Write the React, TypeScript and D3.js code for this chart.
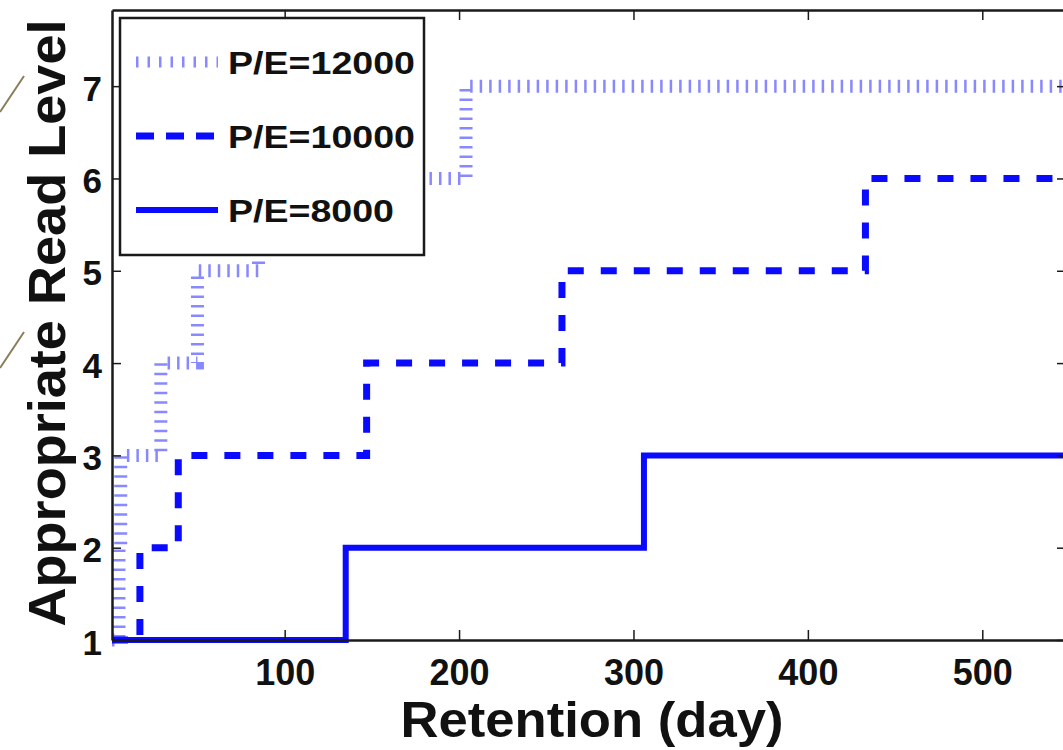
import React, { useRef, useEffect } from 'react';
import * as d3 from 'd3';

// appropriate read level vs retention days
const levelTicks = [1, 2, 3, 4, 5, 6, 7];
const retentionTicks = [100, 200, 300, 400, 500];

const pe12000Days = [1, 5, 6, 29, 50, 85, 204, 548];
const pe12000Levels = [1, 2, 3, 4, 5, 6, 7, 7];
const pe10000Days = [1, 17, 39, 147, 259, 433, 548];
const pe10000Levels = [1, 2, 3, 4, 5, 6, 6];
const pe8000Days = [1, 135, 306, 548];
const pe8000Levels = [1, 2, 3, 3];

const seriesNames = ['P/E=12000', 'P/E=10000', 'P/E=8000'];

const FONT = "'Liberation Sans', Arial, Helvetica, sans-serif";

const App = () => {
  const svgRef = useRef<SVGSVGElement>(null);

  useEffect(() => {
    const svg = d3.select(svgRef.current);
    svg.selectAll('*').remove();

    const x = d3.scaleLinear().domain([1, 548]).range([112, 1066]);
    const y = d3.scaleLinear().domain([1, 7.825]).range([640, 10]);

    svg.append('rect').attr('width', 1063).attr('height', 750).attr('fill', '#ffffff');

    // stray decorative strokes at the left edge
    [[112, 76], [368, 332]].forEach(([y1, y2]) => {
      svg.append('line')
        .attr('x1', 0).attr('y1', y1).attr('x2', 24).attr('y2', y2)
        .attr('stroke', '#8b7d5a').attr('stroke-width', 2);
    });

    const plot = svg.append('g');

    const series = [
      { days: pe12000Days, levels: pe12000Levels, width: 13, dash: '2.5 7', color: '#4a4aff', opacity: 0.65 },
      { days: pe10000Days, levels: pe10000Levels, width: 7, dash: '16 17', color: '#0a0aff', opacity: 1 },
      { days: pe8000Days, levels: pe8000Levels, width: 6, dash: null, color: '#0a0aff', opacity: 1 },
    ];

    const line = d3.line<[number, number]>()
      .x((d) => x(d[0]))
      .y((d) => y(d[1]))
      .curve(d3.curveStepAfter);

    series.forEach((s) => {
      const pts = s.days.map((d, i) => [d, s.levels[i]] as [number, number]);
      plot.append('path')
        .attr('d', line(pts))
        .attr('fill', 'none')
        .attr('stroke', s.color)
        .attr('stroke-width', s.width)
        .attr('stroke-opacity', s.opacity)
        .attr('stroke-dasharray', s.dash)
        .attr('stroke-linecap', 'butt');
    });

    // axes box
    const styleAxis = (g) => {
      g.attr('font-family', FONT);
      g.select('.domain').attr('stroke', '#1a1a1a').attr('stroke-width', 2.5);
      g.selectAll('.tick line').attr('stroke', '#1a1a1a').attr('stroke-width', 1.5);
    };

    const left = svg.append('g')
      .attr('transform', 'translate(112,0)')
      .call(d3.axisLeft(y).tickValues(levelTicks).tickFormat(d3.format('d'))
        .tickSize(-9).tickSizeOuter(0).tickPadding(10));
    styleAxis(left);
    left.selectAll('.tick text')
      .attr('font-size', 35).attr('font-weight', 'bold').attr('fill', '#111')
      .attr('dy', 14);

    const bottom = svg.append('g')
      .attr('transform', 'translate(0,640)')
      .call(d3.axisBottom(x).tickValues(retentionTicks).tickFormat(d3.format('d'))
        .tickSize(-10).tickSizeOuter(0).tickPadding(0));
    styleAxis(bottom);
    bottom.selectAll('.tick text')
      .attr('font-size', 36).attr('font-weight', 'bold').attr('fill', '#111')
      .attr('y', 45).attr('dy', 0);

    const top = svg.append('g')
      .attr('transform', 'translate(0,10)')
      .call(d3.axisTop(x).tickValues(retentionTicks).tickSize(-10).tickSizeOuter(0).tickFormat(() => ''));
    styleAxis(top);

    const right = svg.append('g')
      .attr('transform', 'translate(1066,0)')
      .call(d3.axisRight(y).tickValues(levelTicks).tickSize(-9).tickSizeOuter(0).tickFormat(() => ''));
    styleAxis(right);

    // axis titles
    svg.append('text')
      .attr('x', 592).attr('y', 737)
      .attr('text-anchor', 'middle')
      .attr('font-family', FONT).attr('font-weight', 'bold').attr('font-size', 50)
      .attr('fill', '#111')
      .attr('textLength', 383).attr('lengthAdjust', 'spacingAndGlyphs')
      .text('Retention (day)');

    svg.append('text')
      .attr('transform', 'translate(65,323) rotate(-90)')
      .attr('text-anchor', 'middle')
      .attr('font-family', FONT).attr('font-weight', 'bold').attr('font-size', 52)
      .attr('fill', '#111')
      .attr('textLength', 607).attr('lengthAdjust', 'spacingAndGlyphs')
      .text('Appropriate Read Level');

    // legend
    const legend = svg.append('g');
    legend.append('rect')
      .attr('x', 120).attr('y', 18).attr('width', 304).attr('height', 237)
      .attr('fill', '#ffffff').attr('stroke', '#1a1a1a').attr('stroke-width', 2.5);

    const rowY = [62, 136, 210];
    series.forEach((s, i) => {
      legend.append('line')
        .attr('x1', 136).attr('x2', 218)
        .attr('y1', rowY[i]).attr('y2', rowY[i])
        .attr('stroke', s.color)
        .attr('stroke-width', i === 0 ? 11 : s.width)
        .attr('stroke-opacity', s.opacity)
        .attr('stroke-dasharray', s.dash ? (i === 1 ? '18 12' : '2.5 9') : null);
      legend.append('text')
        .attr('x', 228).attr('y', rowY[i] + 12)
        .attr('font-family', FONT).attr('font-weight', 'bold').attr('font-size', 32)
        .attr('fill', '#111')
        .attr('textLength', i === 2 ? 166 : 187).attr('lengthAdjust', 'spacingAndGlyphs')
        .text(seriesNames[i]);
    });
  }, []);

  return (
    <div style={{ position: 'absolute', left: 0, top: 0 }}>
      <svg ref={svgRef} width={1063} height={750} style={{ display: 'block' }}></svg>
    </div>
  );
};

export default App;
